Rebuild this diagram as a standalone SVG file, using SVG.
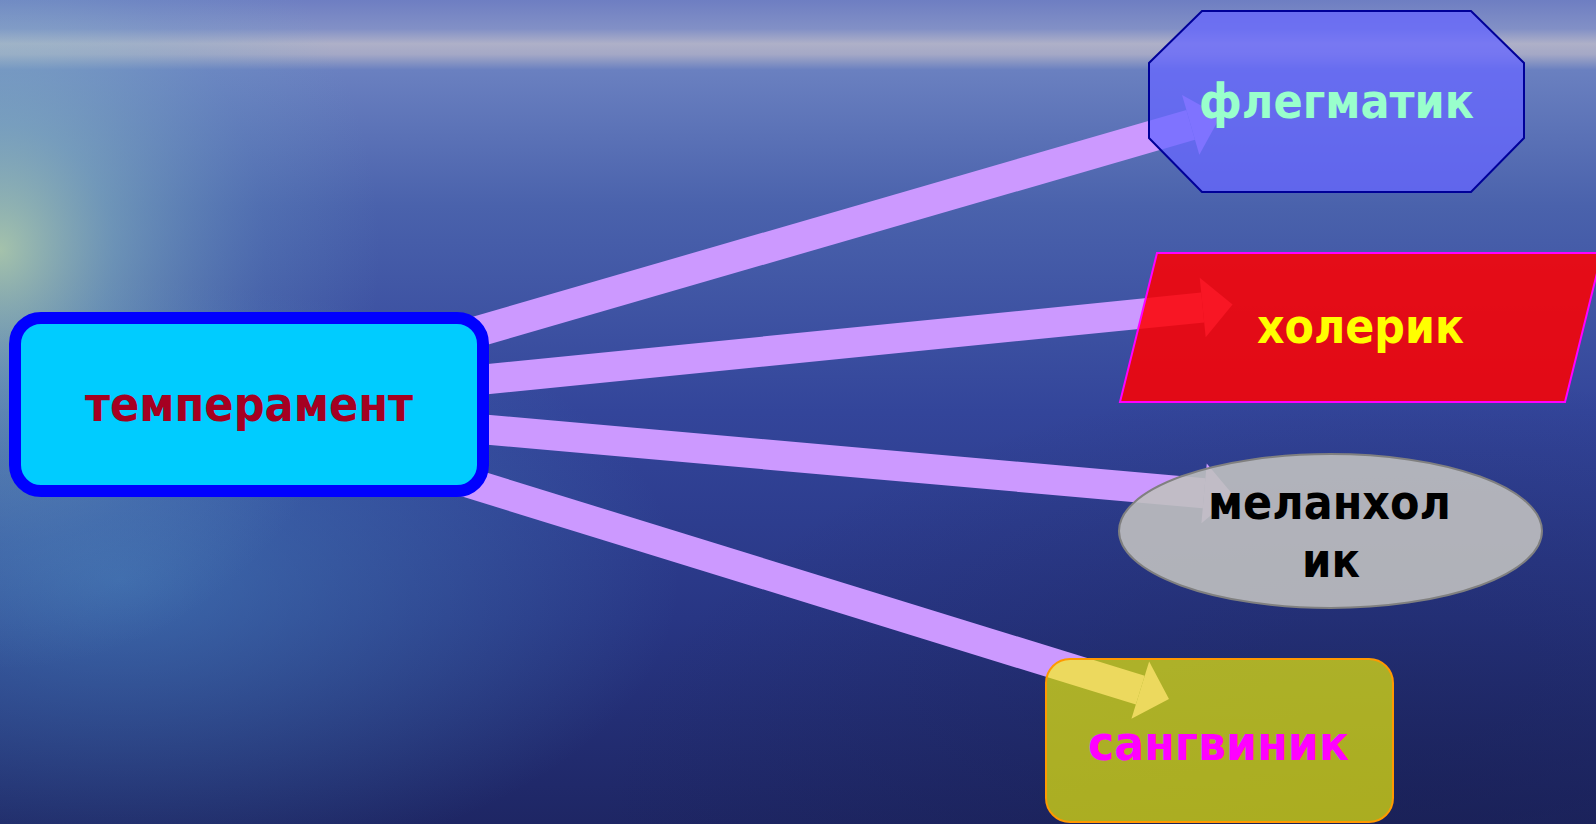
<svg xmlns="http://www.w3.org/2000/svg" width="1596" height="824" viewBox="0 0 1596 824">
  <defs>
    <linearGradient id="sea" x1="0" y1="0" x2="0" y2="1">
      <stop offset="0" stop-color="#6e7ec2"/>
      <stop offset="0.035" stop-color="#8290c6"/>
      <stop offset="0.053" stop-color="#aeb0c8"/>
      <stop offset="0.066" stop-color="#a4a8c6"/>
      <stop offset="0.085" stop-color="#6a80c0"/>
      <stop offset="0.25" stop-color="#4a62ac"/>
      <stop offset="0.5" stop-color="#33459a"/>
      <stop offset="0.75" stop-color="#283684"/>
      <stop offset="1" stop-color="#1e2664"/>
    </linearGradient>
    <radialGradient id="glow" cx="0" cy="0" r="1" gradientUnits="userSpaceOnUse" gradientTransform="translate(0 250) scale(380 420)">
      <stop offset="0" stop-color="#c4e4ac" stop-opacity="0.75"/>
      <stop offset="0.3" stop-color="#92c8c4" stop-opacity="0.5"/>
      <stop offset="0.7" stop-color="#70a8c8" stop-opacity="0.18"/>
      <stop offset="1" stop-color="#70a8c8" stop-opacity="0"/>
    </radialGradient>
    <radialGradient id="sparkle" cx="0" cy="0" r="1" gradientUnits="userSpaceOnUse" gradientTransform="translate(120 580) scale(560 300)">
      <stop offset="0" stop-color="#4c90c8" stop-opacity="0.55"/>
      <stop offset="1" stop-color="#4c90c8" stop-opacity="0"/>
    </radialGradient>
    <radialGradient id="dark" cx="0" cy="0" r="1" gradientUnits="userSpaceOnUse" gradientTransform="translate(1400 824) scale(800 450)">
      <stop offset="0" stop-color="#161c4c" stop-opacity="0.5"/>
      <stop offset="1" stop-color="#161c4c" stop-opacity="0"/>
    </radialGradient>
    <marker id="head" viewBox="0 -1 1 2" refX="0" refY="0" markerWidth="1" markerHeight="2" markerUnits="strokeWidth" orient="auto" overflow="visible">
      <path d="M0,-1 L1,0 L0,1 Z" fill="#cc99ff"/>
    </marker>
  </defs>
  <style>
    .arrow { stroke: #cc99ff; stroke-width: 30; fill: none; marker-end: url(#head); }
    .lbl { font-family: "DejaVu Sans", Verdana, sans-serif; font-weight: bold; font-size: 48px; text-anchor: middle; }
  </style>

  <g id="background">
    <rect x="0" y="0" width="1596" height="824" fill="url(#sea)"/>
    <rect x="0" y="0" width="1596" height="824" fill="url(#sparkle)"/>
    <rect x="0" y="0" width="1596" height="824" fill="url(#dark)"/>
    <rect x="0" y="0" width="1596" height="824" fill="url(#glow)"/>
  </g>

  <g id="connectors">
    <line class="arrow" x1="220" y1="406" x2="1190.7" y2="124.9" style="stroke-width:31"/>
    <line class="arrow" x1="220" y1="406" x2="1202.7" y2="307.5"/>
    <line class="arrow" x1="220" y1="406" x2="1204.1" y2="493.3"/>
    <line class="arrow" x1="220" y1="406" x2="1140.3" y2="690.2"/>
  </g>

  <g id="temperament">
    <rect x="15" y="318" width="468" height="173" rx="26" ry="26" fill="#00ccff" stroke="#0000ff" stroke-width="12"/>
    <text class="lbl" x="249" y="421" fill="#a50021" textLength="328" lengthAdjust="spacingAndGlyphs">темперамент</text>
  </g>

  <g id="flegmatik">
    <polygon points="1202,11 1471,11 1524,63 1524,138 1471,192 1202,192 1149,138 1149,63" fill="#6666ff" fill-opacity="0.76" stroke="#000099" stroke-width="2"/>
    <text class="lbl" x="1336.5" y="118" fill="#99ffcc" textLength="275" lengthAdjust="spacingAndGlyphs">флегматик</text>
  </g>

  <g id="holerik">
    <polygon points="1157,253 1602,253 1565,402 1120,402" fill="#ff0000" fill-opacity="0.86" stroke="#ff00ff" stroke-width="2"/>
    <text class="lbl" x="1360.5" y="343" fill="#ffff00" textLength="207" lengthAdjust="spacingAndGlyphs">холерик</text>
  </g>

  <g id="melanholik">
    <ellipse cx="1330.5" cy="531" rx="211.5" ry="77" fill="#c0c0c0" fill-opacity="0.9" stroke="#808080" stroke-width="2"/>
    <text class="lbl" x="1329.5" y="519" fill="#000000" textLength="243" lengthAdjust="spacingAndGlyphs">меланхол</text>
    <text class="lbl" x="1331" y="577" fill="#000000" textLength="58" lengthAdjust="spacingAndGlyphs">ик</text>
  </g>

  <g id="sangvinik">
    <rect x="1046" y="659" width="347" height="163" rx="24" ry="24" fill="#ffff00" fill-opacity="0.63" stroke="#ff9900" stroke-width="2"/>
    <text class="lbl" x="1218.5" y="760" fill="#ff00ff" textLength="261" lengthAdjust="spacingAndGlyphs">сангвиник</text>
  </g>
</svg>
